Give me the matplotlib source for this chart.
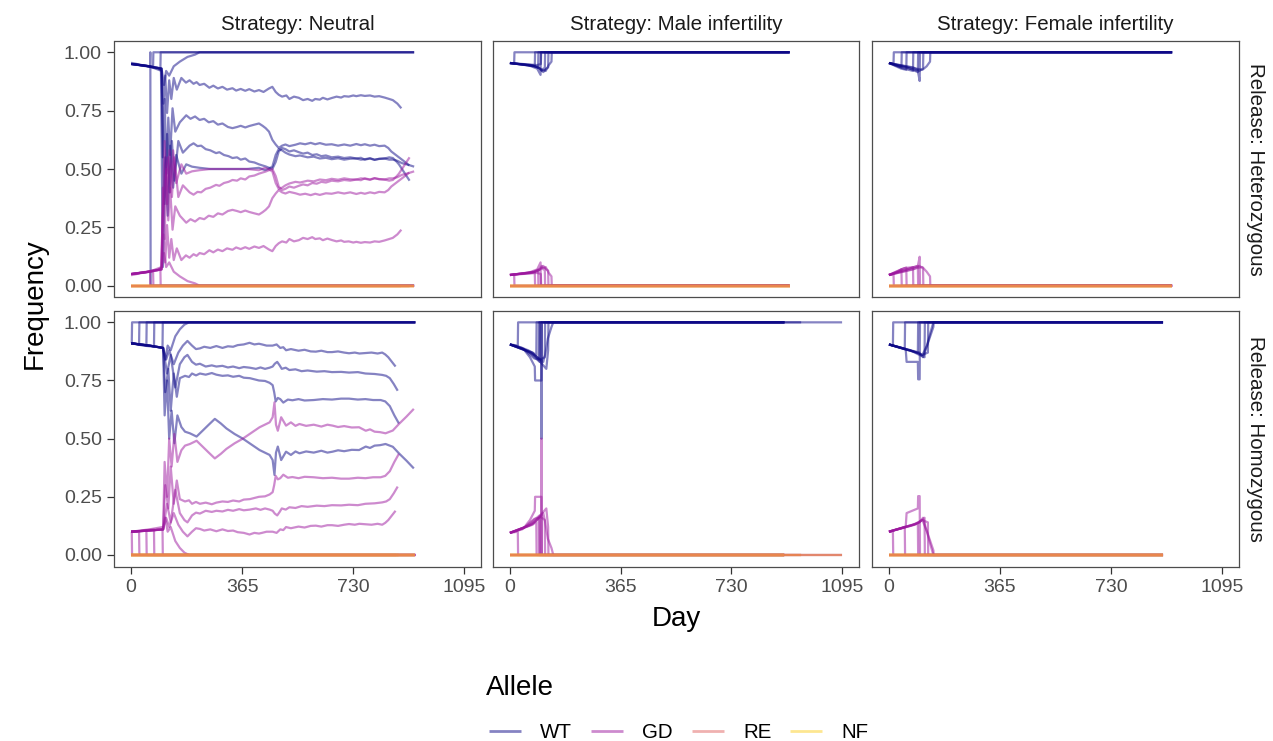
import matplotlib
matplotlib.use("Agg")
import matplotlib.pyplot as plt
from matplotlib.lines import Line2D

plt.rcParams['font.family'] = ['Liberation Sans', 'DejaVu Sans']

# ---- data: allele frequency per replicate ----
strategies = ["Neutral", "Male infertility", "Female infertility"]
releases = ["Heterozygous", "Homozygous"]
alleles = ["WT", "GD", "RE", "NF"]
allele_colors = ["#0D0887", "#9C179E", "#E16462", "#FCCE25"]
x_ticks = [0, 365, 730, 1095]
y_ticks = [0.0, 0.25, 0.5, 0.75, 1.0]
y_ticklabels = ["0.00", "0.25", "0.50", "0.75", "1.00"]

# RE and NF stay at zero from first to last day in every run
re_freq = [0.0, 0.0]
nf_freq = [0.0, 0.0]

# Neutral / Heterozygous
nh_days = [
    [0, 62, 63, 64, 930],
    [0, 72, 73, 930],
    [0, 50, 90, 96, 97, 930],
    [0, 60, 100, 108, 115, 125, 140, 160, 185, 210, 225, 930],
    [0, 60, 100, 106, 112, 118, 125, 132, 140, 150, 165, 180,
     192, 205, 215, 225, 240, 257, 270, 285, 300, 315, 333, 345, 360, 375, 388, 405, 420, 435, 453, 464, 475,
     485, 496, 510, 520, 535, 551, 565, 580, 595, 605, 620, 630, 645, 659, 675, 690, 700, 715, 730, 740, 755,
     768, 785, 800, 815, 833, 848, 860, 875, 888],
    [0, 60, 100, 104, 110, 116, 122, 128, 136, 145, 160,
     181, 195, 210, 225, 240, 255, 270, 285, 300, 318, 333, 348, 360, 375, 388, 405, 420, 432, 442, 453,
     464, 475, 485, 496, 507, 520, 540, 555, 572, 590, 605, 620, 640, 659, 680, 700, 720, 740, 755, 768,
     785, 800, 815, 833, 845, 855, 870, 885, 900, 914],
    [0, 60, 100, 110, 118, 126, 134, 142, 155, 170,
     192, 205, 218, 230, 245, 260, 279, 290, 305, 320, 333, 348, 360, 375, 388, 405, 420, 432, 442, 453,
     464, 475, 485, 496, 507, 520, 535, 551, 565, 580, 595, 610, 625, 640, 659, 680, 700, 720, 740, 755,
     768, 785, 800, 815, 833, 848, 860, 870, 880, 890, 900, 915],
    [0, 60, 98, 104, 112, 120, 128, 138, 148, 165,
     181, 200, 225, 260, 300, 340, 380, 420, 440, 450, 464, 475, 485, 496, 507, 520, 540, 555, 580, 600,
     620, 640, 659, 680, 700, 720, 740, 755, 768, 785, 800, 815, 833, 848, 860, 875, 890, 905, 918, 930],
]
nh_wt = [
    [0.95, 0.94, 1.0, 0.0, 0.0],
    [0.955, 0.935, 1.0, 1.0],
    [0.95, 0.94, 0.93, 0.925, 1.0, 1.0],
    [0.95, 0.94, 0.93, 0.86, 0.92, 0.90, 0.94, 0.96, 0.98, 0.99, 1.0, 1.0],
    [0.95, 0.94, 0.93, 0.78, 0.90, 0.74, 0.88, 0.80, 0.89, 0.84, 0.89, 0.87,
     0.88, 0.865, 0.872, 0.86, 0.865, 0.848, 0.857, 0.845, 0.852, 0.84, 0.846, 0.836, 0.843, 0.835, 0.842,
     0.832, 0.838, 0.83, 0.845, 0.852, 0.83, 0.818, 0.81, 0.815, 0.80, 0.81, 0.805, 0.795, 0.80, 0.792, 0.80,
     0.797, 0.805, 0.798, 0.804, 0.81, 0.806, 0.812, 0.81, 0.815, 0.812, 0.816, 0.813, 0.815, 0.81, 0.812,
     0.806, 0.80, 0.795, 0.78, 0.76],
    [0.95, 0.94, 0.93, 0.55, 0.80, 0.48, 0.72, 0.56, 0.76, 0.66, 0.70,
     0.73, 0.715, 0.725, 0.71, 0.715, 0.70, 0.705, 0.69, 0.695, 0.68, 0.675, 0.68, 0.685, 0.678, 0.684,
     0.69, 0.695, 0.685, 0.675, 0.66, 0.625, 0.605, 0.59, 0.60, 0.605, 0.598, 0.604, 0.61, 0.606, 0.612,
     0.606, 0.611, 0.604, 0.606, 0.60, 0.605, 0.60, 0.607, 0.602, 0.606, 0.60, 0.604, 0.598, 0.60, 0.59,
     0.575, 0.56, 0.545, 0.53, 0.515],
    [0.95, 0.94, 0.92, 0.35, 0.65, 0.40, 0.62, 0.45, 0.62, 0.57,
     0.60, 0.61, 0.598, 0.60, 0.585, 0.58, 0.568, 0.572, 0.56, 0.555, 0.547, 0.55, 0.54, 0.545, 0.532,
     0.528, 0.52, 0.515, 0.511, 0.505, 0.50, 0.53, 0.575, 0.59, 0.585, 0.575, 0.58, 0.572, 0.566, 0.57,
     0.56, 0.563, 0.555, 0.558, 0.55, 0.553, 0.547, 0.55, 0.545, 0.548, 0.54, 0.545, 0.539, 0.544, 0.545,
     0.55, 0.547, 0.535, 0.52, 0.50, 0.48, 0.45],
    [0.95, 0.94, 0.93, 0.08, 0.55, 0.30, 0.60, 0.42, 0.56, 0.48,
     0.52, 0.51, 0.505, 0.50, 0.50, 0.50, 0.50, 0.505, 0.495, 0.50, 0.51, 0.56, 0.585, 0.58, 0.57, 0.562,
     0.555, 0.558, 0.55, 0.553, 0.545, 0.548, 0.542, 0.546, 0.54, 0.544, 0.545, 0.54, 0.542, 0.546, 0.54,
     0.543, 0.545, 0.54, 0.54, 0.535, 0.525, 0.52, 0.515, 0.51],
]
nh_gd = [
    [0.05, 0.06, 0.0, 0.0, 0.0],
    [0.045, 0.065, 0.0, 0.0],
    [0.05, 0.06, 0.07, 0.075, 0.0, 0.0],
    [0.05, 0.06, 0.07, 0.14, 0.08, 0.10, 0.06, 0.04, 0.02, 0.01, 0.0, 0.0],
    [0.05, 0.06, 0.07, 0.22, 0.10, 0.26, 0.12, 0.20, 0.11, 0.16, 0.11, 0.13,
     0.12, 0.135, 0.128, 0.14, 0.135, 0.152, 0.143, 0.155, 0.148, 0.16, 0.154, 0.164, 0.157, 0.165, 0.158,
     0.168, 0.162, 0.17, 0.155, 0.148, 0.17, 0.182, 0.19, 0.185, 0.20, 0.19, 0.195, 0.205, 0.20, 0.208, 0.20,
     0.203, 0.195, 0.202, 0.196, 0.19, 0.194, 0.188, 0.19, 0.185, 0.188, 0.184, 0.187, 0.185, 0.19, 0.188,
     0.194, 0.20, 0.205, 0.22, 0.24],
    [0.05, 0.06, 0.07, 0.42, 0.20, 0.50, 0.28, 0.42, 0.24, 0.34, 0.30,
     0.27, 0.285, 0.275, 0.29, 0.285, 0.30, 0.295, 0.31, 0.305, 0.32, 0.325, 0.32, 0.315, 0.322, 0.316,
     0.31, 0.305, 0.315, 0.325, 0.34, 0.375, 0.395, 0.41, 0.40, 0.395, 0.402, 0.396, 0.39, 0.394, 0.388,
     0.394, 0.389, 0.396, 0.394, 0.40, 0.395, 0.40, 0.393, 0.398, 0.394, 0.40, 0.396, 0.402, 0.40, 0.41,
     0.425, 0.44, 0.455, 0.47, 0.485],
    [0.05, 0.06, 0.08, 0.62, 0.35, 0.58, 0.38, 0.55, 0.38, 0.43,
     0.40, 0.39, 0.402, 0.40, 0.415, 0.42, 0.432, 0.428, 0.44, 0.445, 0.453, 0.45, 0.46, 0.455, 0.468,
     0.472, 0.48, 0.485, 0.489, 0.495, 0.50, 0.47, 0.425, 0.41, 0.415, 0.425, 0.42, 0.428, 0.434, 0.43,
     0.44, 0.437, 0.445, 0.442, 0.45, 0.447, 0.453, 0.45, 0.455, 0.452, 0.46, 0.455, 0.461, 0.456, 0.455,
     0.45, 0.453, 0.465, 0.48, 0.50, 0.52, 0.55],
    [0.05, 0.06, 0.07, 0.30, 0.45, 0.55, 0.40, 0.58, 0.44, 0.52,
     0.48, 0.49, 0.495, 0.50, 0.50, 0.50, 0.50, 0.495, 0.505, 0.50, 0.49, 0.44, 0.415, 0.42, 0.43, 0.438,
     0.445, 0.442, 0.45, 0.447, 0.455, 0.452, 0.458, 0.454, 0.46, 0.456, 0.455, 0.46, 0.458, 0.454, 0.46,
     0.457, 0.455, 0.46, 0.46, 0.465, 0.475, 0.48, 0.485, 0.49],
]

# Neutral / Homozygous
no_days = [
    [0, 2, 3, 934],
    [0, 26, 27, 934],
    [0, 50, 51, 934],
    [0, 40, 75, 76, 934],
    [0, 60, 103, 104, 934],
    [0, 60, 105, 112, 120, 130, 145, 160, 175, 190, 934],
    [0, 60, 105, 115, 125, 140, 155, 170, 185,
     200, 213, 226, 240, 260, 280, 300, 318, 335, 350, 370, 389, 405, 420, 430, 445, 465, 478, 490, 500,
     509, 525, 550, 570, 590, 607, 625, 645, 660, 680, 700, 716, 735, 750, 770, 790, 810, 825, 835, 845,
     857, 869],
    [0, 60, 105, 118, 130, 145, 160, 175, 185,
     200, 213, 226, 245, 265, 280, 300, 318, 335, 355, 370, 390, 410, 425, 440, 455, 465, 472, 480, 488,
     495, 508, 520, 540, 560, 580, 610, 635, 660, 690, 716, 745, 770, 800, 825, 838, 850, 863, 876],
    [0, 60, 105, 112, 122, 130, 140, 150, 160,
     177, 190, 200, 213, 226, 245, 265, 280, 300, 318, 335, 355, 370, 390, 405, 420, 440, 455, 465, 470,
     475, 482, 490, 500, 515, 530, 550, 570, 600, 630, 660, 690, 716, 745, 770, 795, 820, 835, 850, 865,
     880],
    [0, 60, 105, 110, 118, 125, 133, 142, 152, 165, 177, 193, 215, 237, 255, 275, 295, 313, 340, 367,
     395, 422, 455, 465, 471, 476, 482, 493,
     509, 525, 540, 553, 575, 600, 625, 645, 662, 680, 700, 725, 749, 771, 785, 800, 818, 836, 850, 860,
     880, 905, 929],
]
no_wt = [
    [0.91, 0.91, 1.0, 1.0],
    [0.91, 0.905, 1.0, 1.0],
    [0.91, 0.90, 1.0, 1.0],
    [0.91, 0.90, 0.895, 1.0, 1.0],
    [0.91, 0.90, 0.89, 1.0, 1.0],
    [0.91, 0.90, 0.89, 0.84, 0.90, 0.88, 0.94, 0.97, 0.99, 1.0, 1.0],
    [0.91, 0.90, 0.89, 0.84, 0.88, 0.82, 0.87, 0.90, 0.92,
     0.90, 0.885, 0.888, 0.895, 0.89, 0.898, 0.89, 0.897, 0.895, 0.902, 0.905, 0.912, 0.905, 0.908, 0.905,
     0.90, 0.90, 0.905, 0.89, 0.893, 0.88, 0.885, 0.878, 0.882, 0.875, 0.874, 0.878, 0.872, 0.872, 0.875,
     0.87, 0.867, 0.87, 0.866, 0.868, 0.87, 0.866, 0.87, 0.862, 0.85, 0.83, 0.81],
    [0.91, 0.90, 0.89, 0.78, 0.86, 0.72, 0.82, 0.85, 0.86,
     0.83, 0.818, 0.822, 0.81, 0.815, 0.81, 0.813, 0.806, 0.81, 0.803, 0.808, 0.805, 0.80, 0.806, 0.80,
     0.805, 0.81, 0.822, 0.83, 0.815, 0.80, 0.805, 0.795, 0.798, 0.79, 0.793, 0.788, 0.79, 0.786, 0.787,
     0.784, 0.786, 0.78, 0.778, 0.774, 0.77, 0.76, 0.735, 0.706],
    [0.91, 0.90, 0.89, 0.70, 0.80, 0.62, 0.78, 0.68, 0.76,
     0.77, 0.765, 0.78, 0.772, 0.78, 0.775, 0.782, 0.775, 0.77, 0.772, 0.766, 0.77, 0.762, 0.76, 0.755,
     0.75, 0.748, 0.74, 0.73, 0.70, 0.66, 0.675, 0.67, 0.655, 0.668, 0.665, 0.67, 0.664, 0.666, 0.67,
     0.668, 0.672, 0.672, 0.668, 0.67, 0.666, 0.666, 0.66, 0.64, 0.60, 0.565],
    [0.91, 0.90, 0.89, 0.60, 0.75, 0.50, 0.62, 0.48, 0.60, 0.55, 0.53, 0.523, 0.509, 0.537, 0.56, 0.585,
     0.565, 0.544, 0.52, 0.50, 0.475, 0.451, 0.43, 0.408, 0.344, 0.44, 0.466, 0.408,
     0.444, 0.43, 0.445, 0.437, 0.445, 0.44, 0.448, 0.44, 0.444, 0.45, 0.446, 0.452, 0.451, 0.466, 0.46,
     0.47, 0.472, 0.477, 0.47, 0.465, 0.437, 0.405, 0.372],
]
no_gd = [
    [0.10, 0.10, 0.0, 0.0],
    [0.10, 0.10, 0.0, 0.0],
    [0.10, 0.105, 0.0, 0.0],
    [0.10, 0.105, 0.11, 0.0, 0.0],
    [0.10, 0.11, 0.12, 0.0, 0.0],
    [0.10, 0.105, 0.11, 0.16, 0.10, 0.12, 0.06, 0.03, 0.01, 0.0, 0.0],
    [0.10, 0.105, 0.11, 0.16, 0.12, 0.18, 0.13, 0.10, 0.08,
     0.10, 0.115, 0.112, 0.105, 0.11, 0.102, 0.11, 0.103, 0.105, 0.098, 0.095, 0.088, 0.095, 0.092, 0.095,
     0.10, 0.10, 0.095, 0.11, 0.107, 0.12, 0.115, 0.122, 0.118, 0.125, 0.126, 0.122, 0.128, 0.128, 0.125,
     0.13, 0.133, 0.13, 0.134, 0.132, 0.13, 0.134, 0.13, 0.138, 0.15, 0.17, 0.19],
    [0.10, 0.105, 0.11, 0.22, 0.14, 0.28, 0.18, 0.15, 0.14,
     0.17, 0.182, 0.178, 0.19, 0.185, 0.19, 0.187, 0.194, 0.19, 0.197, 0.192, 0.195, 0.20, 0.194, 0.20,
     0.195, 0.19, 0.178, 0.17, 0.185, 0.20, 0.195, 0.205, 0.202, 0.21, 0.207, 0.212, 0.21, 0.214, 0.213,
     0.216, 0.214, 0.22, 0.222, 0.226, 0.23, 0.24, 0.265, 0.294],
    [0.10, 0.105, 0.11, 0.30, 0.20, 0.38, 0.22, 0.32, 0.24,
     0.23, 0.235, 0.22, 0.228, 0.22, 0.225, 0.218, 0.225, 0.23, 0.228, 0.234, 0.23, 0.238, 0.24, 0.245,
     0.25, 0.252, 0.26, 0.27, 0.30, 0.34, 0.325, 0.33, 0.345, 0.332, 0.335, 0.33, 0.336, 0.334, 0.33,
     0.332, 0.328, 0.328, 0.332, 0.33, 0.334, 0.334, 0.34, 0.36, 0.40, 0.435],
    [0.10, 0.105, 0.11, 0.40, 0.25, 0.50, 0.38, 0.52, 0.40, 0.45, 0.47, 0.477, 0.491, 0.463, 0.44, 0.415,
     0.435, 0.456, 0.48, 0.50, 0.525, 0.549, 0.57, 0.592, 0.656, 0.56, 0.534, 0.592,
     0.556, 0.57, 0.555, 0.563, 0.555, 0.56, 0.552, 0.56, 0.556, 0.55, 0.554, 0.548, 0.549, 0.534, 0.54,
     0.53, 0.528, 0.523, 0.53, 0.535, 0.563, 0.595, 0.628],
]

# Male infertility / Heterozygous
mh_days = [
    [0, 14, 15, 922],
    [0, 40, 82, 83, 922],
    [0, 50, 80, 93, 94, 922],
    [0, 60, 90, 101, 102, 922],
    [0, 70, 95, 105, 110, 115, 116, 922],
    [0, 80, 100, 110, 120, 126, 127, 922],
    [0, 85, 105, 118, 128, 137, 138, 922],
    [0, 90, 102, 103, 922],
]
mh_wt = [
    [0.954, 0.952, 1.0, 1.0],
    [0.954, 0.948, 0.944, 1.0, 1.0],
    [0.954, 0.946, 0.94, 0.935, 1.0, 1.0],
    [0.954, 0.945, 0.93, 0.903, 1.0, 1.0],
    [0.954, 0.945, 0.935, 0.92, 0.93, 0.925, 1.0, 1.0],
    [0.954, 0.94, 0.93, 0.915, 0.93, 0.935, 1.0, 1.0],
    [0.954, 0.94, 0.925, 0.92, 0.945, 0.96, 1.0, 1.0],
    [0.954, 0.945, 0.95, 1.0, 1.0],
]
mh_gd = [
    [0.046, 0.048, 0.0, 0.0],
    [0.046, 0.052, 0.056, 0.0, 0.0],
    [0.046, 0.054, 0.06, 0.07, 0.0, 0.0],
    [0.046, 0.055, 0.07, 0.10, 0.0, 0.0],
    [0.046, 0.055, 0.065, 0.085, 0.07, 0.075, 0.0, 0.0],
    [0.046, 0.06, 0.07, 0.085, 0.07, 0.065, 0.0, 0.0],
    [0.046, 0.06, 0.075, 0.08, 0.055, 0.04, 0.0, 0.0],
    [0.046, 0.055, 0.05, 0.0, 0.0],
]

# Male infertility / Homozygous
mo_days = [
    [0, 26, 27, 1095],
    [0, 30, 60, 87, 88, 960],
    [0, 40, 70, 98, 99, 905],
    [0, 45, 66, 82, 83, 104, 105, 905],
    [0, 50, 80, 95, 96, 103, 104, 105, 905],
    [0, 60, 90, 110, 115, 116, 905],
    [0, 70, 100, 115, 125, 137, 143, 905],
    [0, 75, 100, 120, 126, 127, 905],
]
mo_wt = [
    [0.905, 0.90, 1.0, 1.0],
    [0.905, 0.895, 0.88, 0.86, 1.0, 1.0],
    [0.905, 0.89, 0.865, 0.83, 1.0, 1.0],
    [0.905, 0.885, 0.85, 0.81, 0.75, 0.75, 1.0, 1.0],
    [0.905, 0.88, 0.845, 0.84, 1.0, 1.0, 0.5, 1.0, 1.0],
    [0.905, 0.875, 0.85, 0.83, 0.86, 1.0, 1.0],
    [0.905, 0.87, 0.84, 0.85, 0.93, 0.98, 1.0, 1.0],
    [0.905, 0.87, 0.83, 0.80, 0.88, 1.0, 1.0],
]
mo_gd = [
    [0.095, 0.10, 0.0, 0.0],
    [0.095, 0.11, 0.125, 0.14, 0.0, 0.0],
    [0.095, 0.11, 0.14, 0.17, 0.0, 0.0],
    [0.095, 0.115, 0.15, 0.19, 0.25, 0.25, 0.0, 0.0],
    [0.095, 0.12, 0.155, 0.16, 0.0, 0.0, 0.5, 0.0, 0.0],
    [0.095, 0.125, 0.15, 0.18, 0.15, 0.0, 0.0],
    [0.095, 0.13, 0.165, 0.15, 0.07, 0.03, 0.0, 0.0],
    [0.095, 0.13, 0.17, 0.20, 0.12, 0.0, 0.0],
]

# Female infertility / Heterozygous
fh_days = [
    [0, 15, 16, 931],
    [0, 30, 41, 42, 931],
    [0, 40, 57, 58, 931],
    [0, 50, 79, 80, 931],
    [0, 60, 95, 96, 931],
    [0, 70, 95, 101, 102, 931],
    [0, 80, 100, 112, 113, 931],
    [0, 90, 110, 124, 135, 136, 931],
]
fh_wt = [
    [0.954, 0.952, 1.0, 1.0],
    [0.954, 0.94, 0.935, 1.0, 1.0],
    [0.954, 0.93, 0.925, 1.0, 1.0],
    [0.954, 0.93, 0.92, 1.0, 1.0],
    [0.954, 0.935, 0.915, 1.0, 1.0],
    [0.954, 0.93, 0.92, 0.877, 1.0, 1.0],
    [0.954, 0.935, 0.92, 0.93, 1.0, 1.0],
    [0.954, 0.93, 0.925, 0.94, 0.96, 1.0, 1.0],
]
fh_gd = [
    [0.046, 0.048, 0.0, 0.0],
    [0.046, 0.06, 0.07, 0.0, 0.0],
    [0.046, 0.07, 0.078, 0.0, 0.0],
    [0.046, 0.075, 0.08, 0.0, 0.0],
    [0.046, 0.07, 0.085, 0.0, 0.0],
    [0.046, 0.075, 0.085, 0.124, 0.0, 0.0],
    [0.046, 0.07, 0.085, 0.075, 0.0, 0.0],
    [0.046, 0.075, 0.08, 0.06, 0.04, 0.0, 0.0],
]

# Female infertility / Homozygous
fo_days = [
    [0, 13, 14, 901],
    [0, 40, 52, 53, 901],
    [0, 50, 95, 96, 901],
    [0, 55, 58, 95, 96, 101, 102, 901],
    [0, 70, 100, 117, 118, 901],
    [0, 80, 110, 128, 129, 901],
    [0, 90, 110, 125, 135, 146, 901],
    [0, 85, 100, 112, 120, 146, 147, 901],
]
fo_wt = [
    [0.905, 0.90, 1.0, 1.0],
    [0.905, 0.89, 0.885, 1.0, 1.0],
    [0.905, 0.885, 0.87, 1.0, 1.0],
    [0.905, 0.885, 0.83, 0.83, 0.755, 0.755, 1.0, 1.0],
    [0.905, 0.88, 0.86, 0.85, 1.0, 1.0],
    [0.905, 0.875, 0.86, 0.87, 1.0, 1.0],
    [0.905, 0.87, 0.86, 0.90, 0.95, 1.0, 1.0],
    [0.905, 0.875, 0.87, 0.85, 0.88, 0.98, 1.0, 1.0],
]
fo_gd = [
    [0.10, 0.10, 0.0, 0.0],
    [0.10, 0.115, 0.12, 0.0, 0.0],
    [0.10, 0.12, 0.135, 0.0, 0.0],
    [0.10, 0.12, 0.18, 0.20, 0.253, 0.253, 0.0, 0.0],
    [0.10, 0.125, 0.14, 0.16, 0.0, 0.0],
    [0.10, 0.13, 0.15, 0.14, 0.0, 0.0],
    [0.10, 0.135, 0.15, 0.10, 0.05, 0.0, 0.0],
    [0.10, 0.13, 0.14, 0.16, 0.12, 0.02, 0.0, 0.0],
]

panels = {
    (0, 0): (nh_days, nh_wt, nh_gd),
    (1, 0): (no_days, no_wt, no_gd),
    (0, 1): (mh_days, mh_wt, mh_gd),
    (1, 1): (mo_days, mo_wt, mo_gd),
    (0, 2): (fh_days, fh_wt, fh_gd),
    (1, 2): (fo_days, fo_wt, fo_gd),
}

# ---- layout (pixel boxes of the reference) ----
W, H = 1273, 741
fig = plt.figure(figsize=(W / 100, H / 100), dpi=100)

col_px = [(114.5, 481.0), (493.3, 858.7), (872.3, 1238.7)]
row_px = [(40.6, 297.4), (310.7, 566.6)]
LW = 1.6
ALPHA = 0.5
edge = "#4D4D4D"


def add_px_axes(x0, y0, x1, y1):
    return fig.add_axes([x0 / W, 1 - y1 / H, (x1 - x0) / W, (y1 - y0) / H])


for (r, c), (days, wt, gd) in panels.items():
    x0, x1 = col_px[c]
    y0, y1 = row_px[r]
    ax = add_px_axes(x0, y0, x1, y1)

    for d, v in zip(days, wt):
        ax.plot(d, v, color=allele_colors[0], alpha=ALPHA, lw=LW, solid_capstyle="butt")
    for d, v in zip(days, gd):
        ax.plot(d, v, color=allele_colors[1], alpha=ALPHA, lw=LW, solid_capstyle="butt")
    for d in days:
        span = [d[0], d[-1]]
        ax.plot(span, nf_freq, color=allele_colors[3], alpha=ALPHA, lw=LW, solid_capstyle="butt")
        ax.plot(span, re_freq, color=allele_colors[2], alpha=ALPHA, lw=LW, solid_capstyle="butt")

    ax.set_xlim(-54.75, 1149.75)
    ax.set_ylim(-0.05, 1.05)
    for s in ax.spines.values():
        s.set_color(edge)
        s.set_linewidth(0.9)
    ax.tick_params(length=4.8, width=0.9, color="#333333", labelcolor="#4D4D4D",
                   labelsize=14, pad=4.2)
    if r == 1:
        ax.set_xticks(x_ticks)
        ax.set_xticklabels([str(t) for t in x_ticks])
    else:
        ax.set_xticks([])
    if c == 0:
        ax.set_yticks(y_ticks)
        ax.set_yticklabels(y_ticklabels)
    else:
        ax.set_yticks([])

    if r == 0:
        fig.text((x0 + x1) / 2 / W, 1 - 29.5 / H, f"Strategy: {strategies[c]}",
                 ha="center", va="baseline", fontsize=14.8, color="#1A1A1A")
    if c == 2:
        fig.text(1256 / W, 1 - (y0 + y1) / 2 / H, f"Release: {releases[r]}",
                 ha="center", va="center", rotation=270, fontsize=14.8, color="#1A1A1A")

# axis titles
fig.text(35 / W, 1 - 303.6 / H, "Frequency", rotation=90, ha="center", va="center",
         fontsize=20, color="black")
fig.text(676.6 / W, 1 - 626 / H, "Day", ha="center", va="baseline", fontsize=20, color="black")

# legend
fig.text(486 / W, 1 - 695 / H, "Allele", ha="left", va="baseline", fontsize=20, color="black")
key_x = [489, 591, 692, 790]
for name, col, kx in zip(alleles, allele_colors, key_x):
    fig.add_artist(Line2D([kx / W, (kx + 32) / W], [1 - 731 / H, 1 - 731 / H],
                          transform=fig.transFigure, color=col, alpha=ALPHA, lw=2.0,
                          solid_capstyle="butt"))
    fig.text((kx + 51) / W, 1 - 738.5 / H, name, ha="left", va="baseline",
             fontsize=14.8, color="black")

fig.savefig("out.png", dpi=100)
